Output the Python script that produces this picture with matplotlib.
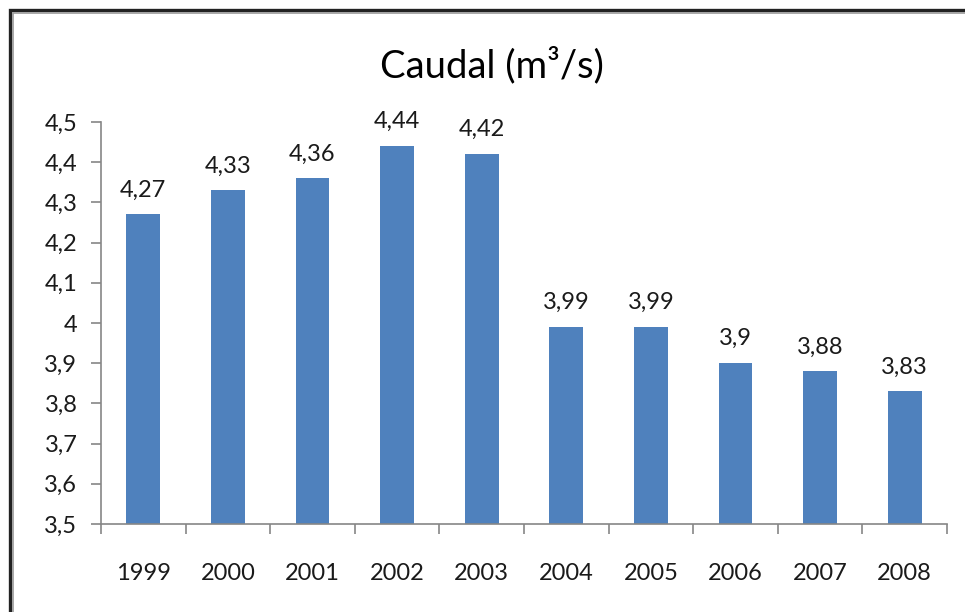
import matplotlib
matplotlib.use("Agg")
import matplotlib.pyplot as plt
from matplotlib.patches import Rectangle
from matplotlib.ticker import FuncFormatter

years = ["1999", "2000", "2001", "2002", "2003", "2004", "2005", "2006", "2007", "2008"]
caudal = [4.27, 4.33, 4.36, 4.44, 4.42, 3.99, 3.99, 3.90, 3.88, 3.83]
yticks = [3.5, 3.6, 3.7, 3.8, 3.9, 4.0, 4.1, 4.2, 4.3, 4.4, 4.5]
title = "Caudal (m³/s)"

plt.rcParams['font.family'] = ['Lato', 'DejaVu Sans']

W, H = 965, 612
fig = plt.figure(figsize=(W / 100, H / 100), dpi=100)
ax = fig.add_axes([101 / W, 1 - 524 / H, (947 - 101) / W, (524 - 122) / H])

x = list(range(len(years)))
ax.bar(x, caudal, width=0.4, color="#4F81BD", zorder=2)
ax.set_xlim(-0.5, len(years) - 0.5)
ax.set_ylim(3.5, 4.5)

def fmt(v):
    s = f"{v:.2f}".rstrip("0").rstrip(".")
    return s.replace(".", ",")

for xi, v in zip(x, caudal):
    ax.annotate(fmt(v), (xi, v), xytext=(0, 10), textcoords="offset points",
                ha="center", va="bottom", fontsize=17, color="#1a1a1a")

ax.set_yticks(yticks)
ax.yaxis.set_major_formatter(FuncFormatter(lambda v, p: fmt(round(v, 2))))
ax.set_xticks(x)
ax.set_xticklabels(years)
ax.set_xticks([i - 0.5 for i in range(len(years) + 1)], minor=True)
ax.tick_params(axis="x", which="major", length=0, pad=28, labelsize=17, colors="#1a1a1a")
ax.tick_params(axis="x", which="minor", length=7, width=1.2, color="#868686", direction="out")
ax.tick_params(axis="y", length=7, width=1.2, color="#868686", direction="out",
               labelsize=17, labelcolor="#1a1a1a", pad=10)

for s in ["top", "right"]:
    ax.spines[s].set_visible(False)
for s in ["left", "bottom"]:
    ax.spines[s].set_color("#868686")
    ax.spines[s].set_linewidth(1.2)

fig.text(492 / W, 1 - 65 / H, title, ha="center", va="center", fontsize=27.5, color="#000000")

# chart border (double line, right/bottom off-image)
fig.patches.append(Rectangle((9.5 / W, -0.1), 1.2, 1 - 9.5 / H + 0.1, transform=fig.transFigure,
                             fill=False, edgecolor="#222222", linewidth=2.4, zorder=5))
fig.patches.append(Rectangle((12.5 / W, -0.1), 1.2, 1 - 12.5 / H + 0.1, transform=fig.transFigure,
                             fill=False, edgecolor="#9a9a9a", linewidth=1.2, zorder=5))

fig.savefig("out.png", dpi=100)
